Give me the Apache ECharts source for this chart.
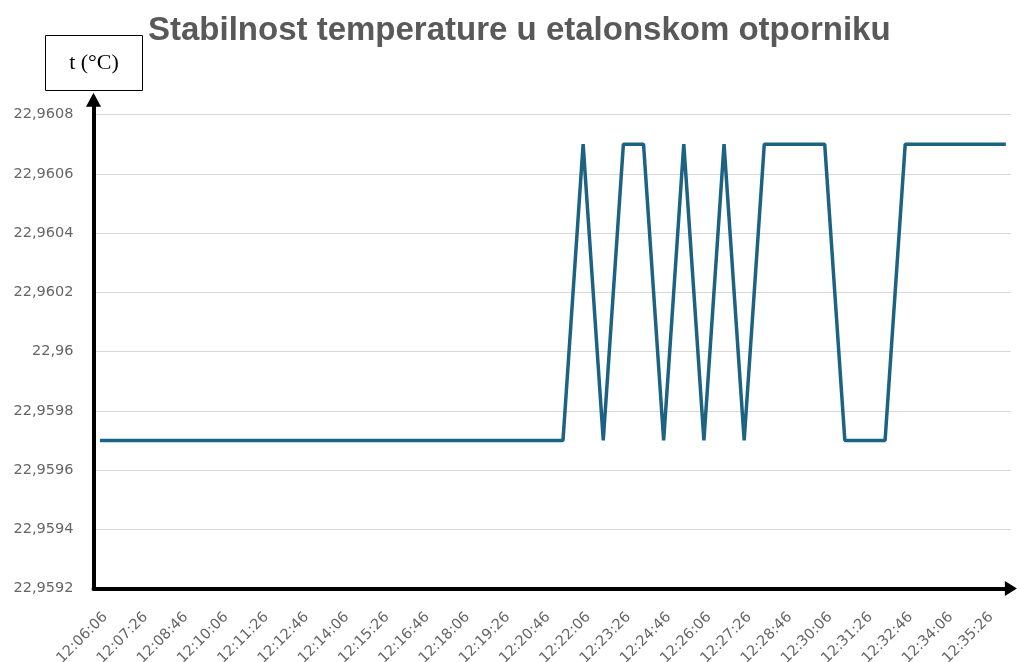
<!DOCTYPE html>
<html>
<head>
<meta charset="utf-8">
<script src="https://cdn.jsdelivr.net/npm/echarts@6/dist/echarts.min.js"></script>
<style>
html,body{margin:0;padding:0;background:#fff;}
#chart{width:1017px;height:662px;}
</style>
</head>
<body>
<div id="chart"></div>
<script>
// Measurement times (every 40 s)
var times = [
  '12:06:06','12:06:46','12:07:26','12:08:06','12:08:46','12:09:26','12:10:06','12:10:46',
  '12:11:26','12:12:06','12:12:46','12:13:26','12:14:06','12:14:46','12:15:26','12:16:06',
  '12:16:46','12:17:26','12:18:06','12:18:46','12:19:26','12:20:06','12:20:46','12:21:26',
  '12:22:06','12:22:46','12:23:26','12:24:06','12:24:46','12:25:26','12:26:06','12:26:46',
  '12:27:26','12:28:06','12:28:46','12:29:26','12:30:06','12:30:46','12:31:26','12:32:06',
  '12:32:46','12:33:26','12:34:06','12:34:46','12:35:26','12:36:06'
];
// Temperature values (°C)
var temps = [
  22.9597,22.9597,22.9597,22.9597,22.9597,22.9597,22.9597,22.9597,
  22.9597,22.9597,22.9597,22.9597,22.9597,22.9597,22.9597,22.9597,
  22.9597,22.9597,22.9597,22.9597,22.9597,22.9597,22.9597,22.9597,
  22.9607,22.9597,22.9607,22.9607,22.9597,22.9607,22.9597,22.9607,
  22.9597,22.9607,22.9607,22.9607,22.9607,22.9597,22.9597,22.9597,
  22.9607,22.9607,22.9607,22.9607,22.9607,22.9607
];
// Labelled x positions (every second measurement)
var xLabelIdx = [0,2,4,6,8,10,12,14,16,18,20,22,24,26,28,30,32,34,36,38,40,42,44];
var yMin = 22.9592, yTopTick = 22.9608, yStep = 0.0002;
var titleText = 'Stabilnost temperature u etalonskom otporniku';
var unitText = 't (°C)';

var seriesData = temps.map(function (v, i) { return [i, v]; });

var chart = echarts.init(document.getElementById('chart'), null, {renderer: 'canvas'});
chart.setOption({
  animation: false,
  backgroundColor: '#ffffff',
  title: {
    text: titleText,
    left: 143,
    top: 9,
    textStyle: {
      fontFamily: 'Liberation Sans',
      fontWeight: 'bold',
      fontSize: 33,
      color: '#595959'
    }
  },
  graphic: [{
    type: 'group',
    left: 45,
    top: 35,
    children: [{
      type: 'rect',
      shape: {x: 0, y: 0, width: 97, height: 55},
      style: {fill: '#ffffff', stroke: '#000000', lineWidth: 1}
    }, {
      type: 'text',
      x: 48.5,
      y: 27.5,
      style: {
        text: unitText,
        fontFamily: 'Liberation Serif',
        fontSize: 22,
        fill: '#000000',
        align: 'center',
        verticalAlign: 'middle'
      }
    }]
  }],
  grid: {left: 93.5, right: 6.1, top: 99.7, bottom: 73.5, outerBoundsMode: 'none', containLabel: false},
  xAxis: {
    type: 'value',
    min: -0.323,
    max: 45.25,
    axisLine: {
      show: true,
      onZero: false,
      symbol: ['none', 'triangle'],
      symbolSize: [15, 12],
      lineStyle: {color: '#000000', width: 4}
    },
    axisTick: {show: false},
    splitLine: {show: false},
    axisLabel: {
      customValues: xLabelIdx,
      rotate: 45,
      align: 'right',
      verticalAlign: 'top',
      margin: 21,
      fontFamily: 'DejaVu Sans',
      fontSize: 14.5,
      color: '#666666',
      formatter: function (v) { return times[Math.round(v)] || ''; }
    }
  },
  yAxis: {
    type: 'value',
    min: yMin,
    max: 22.96085,
    interval: yStep,
    axisLine: {
      show: true,
      onZero: false,
      symbol: ['none', 'triangle'],
      symbolSize: [15, 14],
      lineStyle: {color: '#000000', width: 4}
    },
    axisTick: {show: false},
    splitLine: {show: true, showMaxLine: false, lineStyle: {color: '#d9d9d9', width: 1}},
    axisLabel: {
      margin: 20,
      showMaxLabel: false,
      fontFamily: 'DejaVu Sans',
      fontSize: 14.5,
      color: '#666666',
      formatter: function (v) {
        if (v > yTopTick + 1e-7) return '';
        return String(parseFloat(v.toFixed(4))).replace('.', ',');
      }
    }
  },
  series: [{
    type: 'line',
    data: seriesData,
    symbol: 'none',
    lineStyle: {color: '#1b6283', width: 3.5}
  }]
});
</script>
</body>
</html>
